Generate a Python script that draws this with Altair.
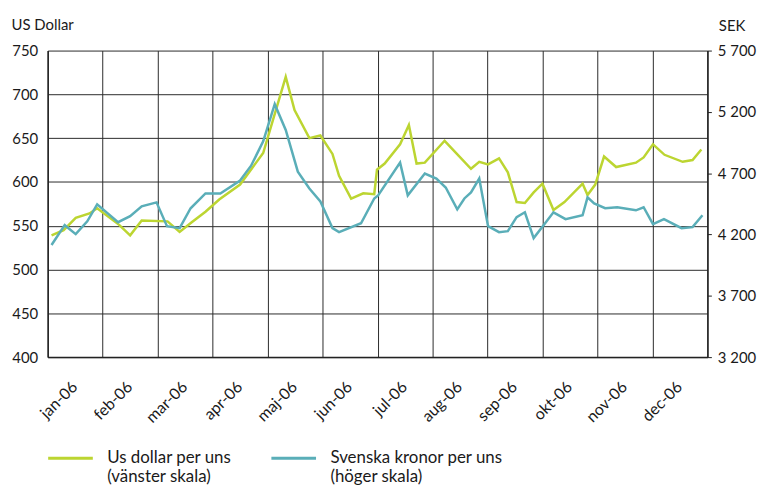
import altair as alt
import pandas as pd

# Month labels (x axis categories, equal-width months)
months = ["jan-06", "feb-06", "mar-06", "apr-06", "maj-06", "jun-06",
          "jul-06", "aug-06", "sep-06", "okt-06", "nov-06", "dec-06"]

# Series names (legend)
usd_name = "Us dollar per uns|(vänster skala)"
sek_name = "Svenska kronor per uns|(höger skala)"

# Position along the year, in months (0 = start of jan, 12 = end of dec)
usd_t = [0.07, 0.29, 0.51, 0.76, 0.90, 1.30, 1.50, 1.71, 2.18, 2.40, 2.62, 2.87,
         3.12, 3.50, 3.72, 3.92, 4.33, 4.49, 4.76, 4.96, 5.18, 5.30, 5.52, 5.74,
         5.94, 5.99, 6.13, 6.41, 6.57, 6.71, 6.86, 7.22, 7.70, 7.85, 8.01, 8.21,
         8.37, 8.53, 8.68, 8.84, 9.00, 9.20, 9.40, 9.73, 9.82, 9.96, 10.12, 10.34,
         10.70, 10.84, 11.01, 11.22, 11.55, 11.73, 11.89]
usd_v = [539, 545, 559, 564, 570, 551, 539, 556, 555, 543, 554, 566,
         580, 597, 616, 633, 720, 682, 650, 653, 632, 607, 581, 587,
         586, 614, 621, 643, 665, 621, 622, 647, 615, 623, 620, 627,
         611, 577, 576, 588, 598, 568, 577, 598, 585, 597, 629, 617,
         622, 628, 643, 631, 623, 625, 637]

sek_t = [0.07, 0.31, 0.51, 0.72, 0.90, 1.28, 1.50, 1.71, 1.98, 2.17, 2.40, 2.60,
         2.87, 3.14, 3.50, 3.70, 3.92, 4.13, 4.33, 4.55, 4.76, 4.96, 5.18, 5.30,
         5.70, 5.94, 6.01, 6.41, 6.55, 6.86, 7.07, 7.24, 7.45, 7.58, 7.70, 7.85,
         8.01, 8.21, 8.37, 8.53, 8.68, 8.84, 9.02, 9.20, 9.42, 9.73, 9.82, 9.94,
         10.14, 10.36, 10.70, 10.84, 11.01, 11.21, 11.53, 11.73, 11.91]
sek_v = [4114, 4276, 4203, 4308, 4446, 4300, 4349, 4430, 4462, 4268, 4252, 4414,
         4535, 4535, 4640, 4761, 4960, 5263, 5053, 4713, 4575, 4470, 4252, 4219,
         4292, 4494, 4519, 4786, 4519, 4697, 4656, 4583, 4405, 4494, 4543, 4656,
         4268, 4219, 4227, 4341, 4381, 4171, 4276, 4381, 4325, 4357, 4503, 4454,
         4414, 4422, 4397, 4422, 4284, 4325, 4252, 4260, 4357]

usd_ticks = [400, 450, 500, 550, 600, 650, 700, 750]
sek_ticks = [3200, 3700, 4200, 4700, 5200, 5700]

df = pd.concat([
    pd.DataFrame({"t": usd_t, "value": usd_v, "series": usd_name}),
    pd.DataFrame({"t": sek_t, "value": sek_v, "series": sek_name}),
])

FONT = "Lato"
month_arr = "[" + ",".join("'%s'" % m for m in months) + "]"

x_enc = alt.X(
    "t:Q",
    scale=alt.Scale(domain=[0, 12], nice=False, zero=False),
    axis=alt.Axis(
        values=list(range(13)),
        labelExpr="datum.value < 12 ? %s[datum.value] : ''" % month_arr,
        labelAngle=-45, labelAlign="right", labelBaseline="middle",
        labelOffset=27, labelPadding=27, labelFontSize=16,
        ticks=False, grid=True, gridColor="#2a2a2a", gridWidth=1,
        domainColor="#222", domainWidth=1.5, title=None,
    ),
)

color_enc = alt.Color(
    "series:N",
    scale=alt.Scale(domain=[usd_name, sek_name], range=["#bcd531", "#5aaeb8"]),
    legend=alt.Legend(
        orient="none", legendX=-1, legendY=387, direction="horizontal",
        title=None, symbolType="stroke", symbolSize=2025, symbolStrokeWidth=3,
        labelExpr="split(datum.label, '|')", labelFontSize=17, labelFont=FONT,
        labelOffset=13, columnPadding=33, labelLimit=300, labelColor="#1a1a1a",
        labelBaseline="middle",
    ),
)

base = alt.Chart(df)

usd = base.transform_filter(alt.datum.series == usd_name).mark_line(strokeWidth=2.5).encode(
    x=x_enc,
    y=alt.Y("value:Q",
            scale=alt.Scale(domain=[400, 750], nice=False, zero=False),
            axis=alt.Axis(values=usd_ticks, ticks=False, grid=True, gridColor="#2a2a2a",
                          gridWidth=1, labelPadding=10, domainColor="#222", domainWidth=1.5,
                          title="US Dollar", titleAngle=0, titleAlign="left",
                          titleBaseline="alphabetic", titleX=-37, titleY=-21,
                          titleFontWeight="normal")),
    color=color_enc,
)

sek = base.transform_filter(alt.datum.series == sek_name).mark_line(strokeWidth=2.5).encode(
    x=x_enc,
    y=alt.Y("value:Q",
            scale=alt.Scale(domain=[3200, 5700], nice=False, zero=False),
            axis=alt.Axis(orient="right", values=sek_ticks, ticks=True, tickSize=4,
                          tickColor="#222", grid=False, labelPadding=6,
                          labelExpr="replace(format(datum.value, ','), ',', ' ')",
                          domainColor="#222", domainWidth=1.5,
                          title="SEK", titleAngle=0, titleAlign="left",
                          titleBaseline="alphabetic", titleX=11, titleY=-20,
                          titleFontWeight="normal")),
    color=color_enc,
)

chart = alt.layer(usd, sek).resolve_scale(y="independent").properties(
    width=665, height=309,
    autosize=alt.AutoSizeParams(type="none"),
    padding={"left": 40, "top": 41, "right": 50, "bottom": 127},
).configure_axis(
    labelFont=FONT, labelFontSize=15, labelColor="#1a1a1a",
    titleFont=FONT, titleFontSize=15, titleColor="#1a1a1a",
).configure_view(stroke=None)

chart.save("out.html", embed_options={"renderer": "svg", "actions": False})
